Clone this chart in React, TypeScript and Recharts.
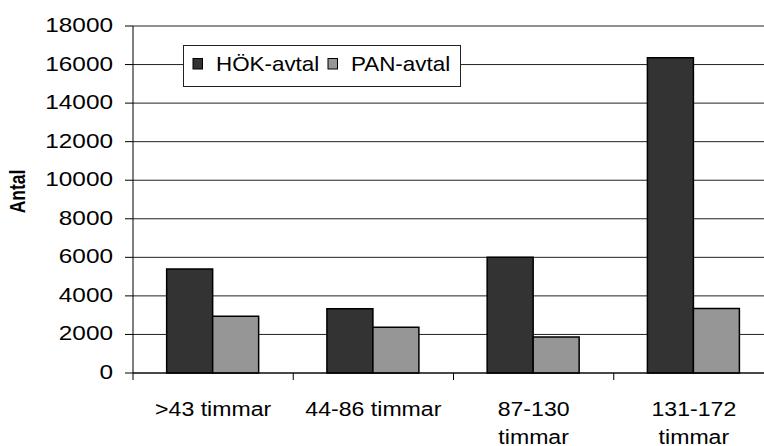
import { BarChart, Bar, XAxis, YAxis, CartesianGrid, Legend, Label } from 'recharts'

const categories = ['>43 timmar', '44-86 timmar', '87-130 timmar', '131-172 timmar']
const hokValues = [5400, 3330, 6000, 16350]
const panValues = [2950, 2370, 1870, 3350]
const yTicks = [0, 2000, 4000, 6000, 8000, 10000, 12000, 14000, 16000, 18000]

const data = categories.map((name, i) => ({ name, hok: hokValues[i], pan: panValues[i] }))

const CHART_W = 790
const CHART_H = 446
const AXIS_W = 133
const RIGHT = 16
const BAND = (CHART_W - AXIS_W - RIGHT) / categories.length
const FONT = 'Arial, "Liberation Sans", sans-serif'

function YTick({ x, y, payload }: any) {
  return (
    <text
      transform={`translate(${x},${y + 6}) scale(1.16,1)`}
      textAnchor="end"
      fontSize={21}
      fontFamily={FONT}
      fill="#000"
    >
      {payload.value}
    </text>
  )
}

// category ticks sit on the band boundaries, labels wrap onto two lines when long
function XTick({ x, y, payload }: any) {
  const label: string = payload.value
  const lines = label.length > 12 ? label.split(' ') : [label]
  return (
    <g>
      <line x1={x - BAND / 2} x2={x - BAND / 2} y1={y} y2={y + 7} stroke="#000" />
      {lines.map((line, i) => (
        <text
          key={i}
          transform={`translate(${x},${y + 43 + i * 28}) scale(1.1,1)`}
          textAnchor="middle"
          fontSize={21}
          fontFamily={FONT}
          fill="#000"
        >
          {line}
        </text>
      ))}
    </g>
  )
}

function AxisTitle({ viewBox }: any) {
  const cy = viewBox.y + viewBox.height / 2 - 8
  return (
    <text
      transform={`translate(25,${cy}) scale(1.25,1) rotate(-90)`}
      textAnchor="middle"
      fontSize={17.5}
      fontWeight="bold"
      fontFamily={FONT}
      fill="#000"
    >
      Antal
    </text>
  )
}

function LegendBox({ payload }: any) {
  const items = payload ?? []
  return (
    <div
      style={{
        width: 278,
        height: 42,
        boxSizing: 'border-box',
        border: '1px solid #222',
        background: '#fff',
      }}
    >
      <svg width={276} height={40} style={{ display: 'block' }}>
        {items.map((entry: any, i: number) => {
          const x0 = 9 + i * 135
          return (
            <g key={entry.value}>
              <rect x={x0} y={12.5} width={9.5} height={10.5} fill={entry.color} stroke="#000" />
              <text
                transform={`translate(${x0 + 23},${24.7}) scale(1.12,1)`}
                fontSize={20}
                fontFamily={FONT}
                fill="#000"
              >
                {entry.value}
              </text>
            </g>
          )
        })}
      </svg>
    </div>
  )
}

export default function App() {
  return (
    <div
      style={{
        position: 'absolute',
        left: 0,
        top: 0,
        width: 764,
        height: 446,
        overflow: 'hidden',
        background: '#fff',
      }}
    >
      <BarChart
        width={CHART_W}
        height={CHART_H}
        data={data}
        margin={{ top: 26, right: RIGHT, bottom: 0, left: 0 }}
        barCategoryGap="21%"
        barGap={0}
      >
        <CartesianGrid vertical={false} stroke="#222" />
        <XAxis
          dataKey="name"
          interval={0}
          height={73}
          tickLine={false}
          tickSize={0}
          tickMargin={0}
          axisLine={{ stroke: '#000' }}
          tick={<XTick />}
        />
        <YAxis
          domain={[0, 18000]}
          ticks={yTicks}
          interval={0}
          width={AXIS_W}
          tickSize={8}
          tickMargin={12}
          axisLine={{ stroke: '#000' }}
          tickLine={{ stroke: '#000' }}
          tick={<YTick />}
        >
          <Label content={<AxisTitle />} />
        </YAxis>
        <Legend
          layout="horizontal"
          align="center"
          verticalAlign="middle"
          content={<LegendBox />}
          wrapperStyle={{ position: 'absolute', left: 183, top: 45, width: 278, height: 42 }}
        />
        <Bar dataKey="hok" name="HÖK-avtal" fill="#333333" stroke="#000" strokeWidth={1.5} isAnimationActive={false} />
        <Bar dataKey="pan" name="PAN-avtal" fill="#969696" stroke="#000" strokeWidth={1.5} isAnimationActive={false} />
      </BarChart>
    </div>
  )
}
